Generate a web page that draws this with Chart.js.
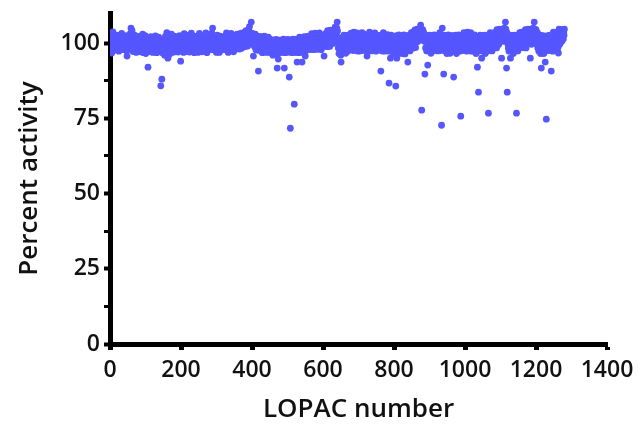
<!DOCTYPE html>
<html>
<head>
<meta charset="utf-8">
<script src="https://cdn.jsdelivr.net/npm/chart.js"></script>
<style>
  html, body { margin: 0; padding: 0; background: #fff; }
  canvas { display: block; }
</style>
</head>
<body>
<canvas id="chart" width="638" height="424"></canvas>
<script>
const xTicks = [0, 200, 400, 600, 800, 1000, 1200, 1400];
const yTicks = [0, 12.5, 25, 37.5, 50, 62.5, 75, 87.5, 100];
const yLabels = [0, 25, 50, 75, 100];

// percent activity for LOPAC compounds 1..1280, 40 per line
const activity = [
  101.2, 99.4, 100.6, 102.3, 96.7, 100.1, 98.3, 103.7, 101.5, 99.8, 100.4, 97.6, 102.1, 100.9, 98.8, 101.3, 97.9, 100.2, 102.6, 99.1, 100.7, 98.4, 101.9, 99.6, 97.3, 99.9, 102.4, 100.3, 101.1, 98.2, 100.8, 99.3, 103.2, 100.5, 97.8, 101.6, 99.2, 100.0, 102.2, 98.6,
  100.4, 99.0, 101.7, 98.1, 102.5, 100.2, 97.4, 95.7, 101.3, 99.5, 100.9, 102.0, 98.5, 100.6, 99.3, 101.4, 103.1, 100.1, 105.0, 99.7, 98.2, 104.2, 100.5, 101.8, 97.2, 100.3, 99.1, 102.7, 100.0, 98.7, 101.2, 100.8, 99.4, 96.9, 102.3, 100.4, 101.6, 97.9, 99.2, 100.7,
  101.1, 99.3, 100.5, 98.0, 102.2, 97.1, 100.9, 99.6, 101.4, 98.4, 100.2, 103.0, 99.0, 96.8, 100.7, 101.2, 98.3, 99.5, 102.5, 100.1, 96.5, 99.8, 101.7, 100.3, 98.6, 97.5, 92.0, 100.4, 99.1, 101.5, 97.7, 100.6, 97.2, 99.4, 102.1, 100.0, 98.1, 99.7, 101.3, 96.9,
  99.2, 100.8, 97.9, 101.6, 97.0, 99.5, 100.3, 102.4, 98.2, 99.9, 100.6, 96.8, 101.1, 99.3, 97.6, 100.2, 102.0, 99.0, 97.3, 100.5, 98.0, 99.6, 85.8, 100.4, 101.3, 88.0, 98.5, 96.7, 100.1, 99.2, 101.0, 97.8, 100.7, 96.0, 99.4, 102.2, 100.0, 98.3, 101.4, 103.5,
  100.3, 98.1, 95.0, 101.2, 99.5, 100.6, 96.2, 102.1, 98.8, 100.0, 97.7, 101.5, 103.0, 99.3, 100.4, 96.9, 101.1, 99.8, 97.5, 99.0, 102.3, 100.2, 97.1, 98.9, 101.6, 100.5, 98.0, 102.0, 99.4, 100.8, 101.3, 97.0, 99.1, 100.3, 97.8, 102.5, 100.1, 99.6, 94.0, 101.0,
  99.1, 100.4, 102.2, 97.9, 101.5, 100.0, 96.9, 99.3, 103.1, 100.6, 98.2, 101.2, 99.7, 100.2, 102.6, 97.2, 100.9, 98.8, 101.4, 98.0, 100.3, 102.1, 99.2, 97.0, 100.7, 101.1, 97.6, 99.9, 103.3, 99.0, 101.3, 100.5, 97.8, 99.4, 102.4, 100.1, 96.8, 101.0, 98.9, 100.6,
  98.0, 101.4, 100.2, 98.7, 102.3, 100.8, 97.7, 96.9, 101.0, 99.6, 98.9, 103.2, 100.4, 97.5, 101.2, 99.0, 100.6, 102.1, 97.1, 100.0, 98.6, 101.5, 97.9, 100.3, 102.5, 99.2, 100.9, 97.6, 101.1, 103.4, 100.2, 98.8, 96.8, 101.3, 99.7, 102.0, 99.1, 97.8, 100.5, 101.6,
  100.1, 102.2, 99.4, 101.0, 97.8, 100.6, 103.3, 101.2, 105.0, 100.3, 102.4, 98.7, 101.5, 100.0, 97.6, 102.1, 99.8, 98.9, 101.3, 96.9, 100.4, 102.6, 98.1, 99.6, 98.8, 101.1, 100.2, 96.9, 99.3, 102.3, 100.7, 97.7, 101.4, 99.0, 100.5, 102.0, 97.9, 100.9, 98.6, 101.2,
  99.2, 100.5, 102.1, 97.8, 100.2, 101.3, 98.9, 103.4, 100.0, 97.7, 101.6, 100.4, 96.9, 99.1, 102.3, 100.7, 101.0, 98.2, 100.1, 98.8, 103.2, 101.4, 100.3, 97.6, 99.3, 102.5, 100.0, 97.1, 101.2, 100.6, 98.7, 102.2, 97.9, 100.4, 101.5, 99.0, 100.2, 103.0, 98.9, 100.8,
  101.3, 99.1, 100.5, 102.4, 98.0, 100.8, 101.2, 99.4, 103.3, 100.1, 98.3, 101.6, 102.2, 100.3, 99.2, 101.0, 103.5, 100.6, 102.1, 98.8, 101.4, 100.0, 104.1, 102.5, 99.9, 101.3, 103.6, 99.0, 102.2, 100.4, 104.3, 101.1, 105.5, 102.6, 100.2, 103.4, 101.0, 107.0, 102.3, 99.8,
  103.2, 101.4, 99.7, 95.7, 102.0, 100.3, 98.9, 101.6, 103.0, 100.2, 97.8, 101.1, 102.4, 98.7, 100.5, 101.3, 97.6, 90.7, 100.1, 102.2, 98.9, 101.5, 99.6, 97.9, 99.2, 101.2, 100.4, 102.1, 96.8, 100.0, 98.6, 101.4, 99.8, 97.5, 102.3, 100.6, 98.8, 101.0, 96.9, 100.3,
  99.0, 101.2, 100.2, 97.7, 99.8, 102.0, 98.6, 96.9, 100.4, 101.3, 97.6, 99.1, 100.0, 96.8, 101.1, 98.8, 97.4, 99.9, 96.0, 98.7, 101.0, 97.5, 100.3, 96.9, 99.2, 100.1, 97.9, 101.2, 96.5, 98.9, 91.7, 100.2, 97.8, 94.7, 99.4, 101.0, 96.8, 100.0, 98.9, 97.6,
  100.2, 97.8, 99.3, 101.1, 96.9, 100.0, 98.8, 97.5, 101.3, 99.6, 91.7, 98.9, 96.8, 100.4, 97.9, 101.0, 98.7, 100.1, 96.9, 99.2, 101.2, 97.7, 100.3, 98.9, 88.7, 100.0, 97.6, 71.7, 99.4, 101.1, 100.2, 96.8, 99.0, 97.9, 100.5, 101.3, 98.8, 96.9, 79.7, 100.1,
  98.9, 100.3, 97.8, 101.2, 96.9, 100.1, 93.7, 99.2, 101.0, 97.6, 100.4, 96.8, 99.0, 102.0, 100.2, 97.7, 101.3, 98.8, 96.9, 100.0, 93.7, 99.4, 101.1, 100.3, 97.9, 98.9, 102.1, 100.0, 96.8, 95.7, 100.2, 98.7, 101.4, 97.8, 100.1, 102.2, 99.0, 101.2, 100.4, 97.9,
  100.1, 101.3, 98.8, 102.4, 100.2, 97.9, 101.1, 103.1, 100.4, 99.0, 101.6, 100.0, 97.8, 102.2, 101.0, 98.9, 100.3, 103.3, 101.2, 98.7, 100.5, 102.3, 97.9, 101.4, 100.1, 98.8, 102.5, 100.2, 101.1, 103.4, 98.9, 100.4, 102.1, 101.3, 97.8, 100.0, 101.2, 98.9, 102.4, 100.6,
  101.0, 98.9, 95.7, 100.3, 102.2, 101.1, 99.0, 103.2, 100.2, 102.4, 101.0, 98.8, 104.1, 100.1, 102.3, 101.2, 103.4, 99.8, 98.9, 102.1, 104.3, 101.0, 100.2, 103.5, 102.0, 100.9, 104.2, 99.9, 102.4, 103.1, 101.1, 104.4, 102.2, 105.3, 103.3, 101.0, 104.5, 102.1, 105.0, 107.0,
  104.0, 101.6, 98.4, 100.7, 96.5, 99.3, 101.8, 97.4, 100.5, 96.0, 93.7, 98.6, 97.2, 100.9, 97.5, 101.4, 99.2, 100.3, 102.6, 97.7, 100.8, 99.5, 101.7, 96.6, 99.7, 102.5, 98.3, 100.6, 101.9, 97.3, 100.4, 99.6, 102.7, 100.9, 98.2, 101.5, 99.8, 98.5, 103.3, 100.6,
  99.4, 101.7, 100.5, 102.6, 97.5, 100.8, 103.6, 101.4, 98.3, 100.7, 102.5, 97.6, 101.8, 99.7, 98.5, 103.4, 100.6, 101.5, 97.3, 100.4, 102.8, 98.6, 101.7, 100.5, 97.4, 102.7, 99.6, 98.4, 101.5, 103.5, 100.7, 97.6, 101.6, 100.4, 103.0, 98.5, 101.7, 100.6, 97.5, 102.6,
  100.6, 98.5, 101.6, 95.7, 100.7, 102.5, 98.3, 101.4, 97.6, 100.5, 103.6, 101.7, 98.6, 99.7, 102.4, 97.4, 101.6, 100.7, 98.4, 102.7, 99.6, 97.5, 101.5, 98.7, 100.6, 103.4, 101.4, 100.6, 97.3, 102.6, 98.5, 100.4, 101.7, 97.6, 99.5, 102.5, 98.4, 101.6, 100.5, 98.3,
  101.5, 98.6, 90.7, 100.6, 102.7, 97.4, 99.6, 101.7, 98.3, 103.5, 100.4, 97.3, 101.6, 100.7, 102.5, 98.4, 99.5, 97.6, 101.4, 100.6, 98.5, 102.8, 100.4, 97.3, 101.5, 86.7, 100.6, 98.4, 101.7, 95.0, 99.6, 102.6, 97.4, 100.5, 101.6, 98.3, 100.7, 96.5, 101.4, 99.6,
  98.5, 101.6, 100.4, 97.3, 85.7, 100.6, 102.5, 95.0, 99.6, 98.4, 101.7, 96.6, 100.5, 102.7, 98.4, 100.6, 97.4, 101.5, 100.7, 98.6, 102.4, 96.5, 99.7, 101.6, 98.3, 97.5, 100.6, 102.7, 98.4, 101.5, 96.4, 100.7, 98.3, 101.6, 97.5, 99.6, 102.5, 98.6, 93.7, 100.4,
  101.5, 98.4, 100.6, 102.6, 97.4, 100.7, 101.6, 98.6, 103.5, 100.4, 102.7, 101.5, 98.3, 100.6, 103.7, 101.4, 102.5, 100.7, 104.4, 101.6, 98.5, 102.6, 103.6, 100.4, 101.7, 104.6, 102.5, 100.6, 103.7, 101.4, 104.7, 102.6, 103.5, 101.5, 106.0, 104.6, 102.4, 77.7, 103.6, 101.5,
  104.5, 102.6, 101.4, 103.5, 100.6, 102.4, 89.7, 101.5, 98.4, 100.6, 102.5, 97.4, 101.6, 100.4, 92.7, 98.5, 101.4, 100.6, 97.5, 102.6, 100.5, 98.4, 101.7, 96.6, 99.6, 102.5, 98.5, 100.7, 97.4, 101.5, 100.4, 98.6, 102.7, 100.5, 97.5, 101.6, 98.4, 100.7, 102.5, 99.6,
  98.5, 101.5, 100.6, 97.4, 102.6, 99.6, 98.4, 101.6, 103.5, 100.5, 97.5, 101.4, 100.7, 72.7, 102.5, 105.0, 99.6, 101.7, 98.3, 89.7, 100.5, 102.6, 97.4, 101.5, 100.7, 98.5, 102.5, 99.6, 96.5, 101.6, 98.4, 100.5, 102.7, 97.3, 100.6, 101.5, 98.4, 96.6, 99.7, 102.5,
  100.5, 98.4, 101.6, 97.3, 100.6, 102.5, 98.4, 88.7, 99.6, 101.5, 97.4, 100.7, 98.5, 102.6, 100.4, 96.5, 101.4, 98.3, 100.6, 97.5, 101.5, 102.7, 98.5, 99.6, 97.3, 101.6, 100.5, 75.7, 98.4, 102.5, 100.7, 101.4, 97.5, 100.5, 98.3, 101.6, 103.5, 99.6, 98.5, 101.5,
  100.6, 102.5, 98.5, 101.4, 97.3, 100.5, 103.6, 101.5, 98.4, 100.6, 102.6, 97.5, 99.6, 101.7, 98.5, 103.5, 100.4, 97.3, 101.4, 100.6, 102.5, 98.4, 99.6, 101.6, 97.4, 100.5, 102.7, 98.3, 101.5, 99.6, 96.5, 100.7, 98.4, 101.5, 92.0, 99.6, 97.4, 83.7, 100.5, 101.6,
  98.4, 100.5, 102.6, 97.4, 99.6, 101.5, 95.0, 100.6, 98.5, 102.5, 99.6, 97.5, 101.6, 98.3, 100.5, 102.6, 96.5, 99.6, 101.5, 98.4, 97.3, 100.6, 102.5, 98.3, 101.4, 76.7, 100.5, 97.5, 101.6, 99.6, 103.5, 98.4, 101.5, 100.6, 102.6, 97.4, 99.6, 101.7, 98.5, 103.4,
  100.5, 102.6, 101.4, 98.5, 103.5, 100.6, 101.5, 102.4, 98.4, 104.5, 101.6, 100.4, 102.6, 103.5, 99.5, 101.4, 104.6, 102.5, 100.5, 103.6, 101.4, 102.6, 95.0, 104.5, 101.5, 103.7, 102.4, 100.6, 104.7, 102.5, 105.0, 103.6, 101.5, 107.0, 104.6, 102.4, 91.7, 103.5, 83.7, 101.6,
  99.6, 98.4, 101.6, 97.3, 100.5, 102.6, 98.4, 95.0, 101.5, 100.6, 97.5, 102.5, 99.6, 98.5, 101.6, 96.5, 100.5, 102.6, 98.4, 99.6, 101.5, 97.4, 100.6, 102.5, 76.7, 98.5, 101.4, 100.6, 97.4, 102.6, 100.5, 101.5, 98.4, 103.5, 99.6, 102.6, 101.4, 98.5, 103.6, 101.5,
  100.6, 102.5, 101.4, 98.5, 103.6, 100.5, 101.6, 102.4, 99.6, 104.5, 101.5, 98.4, 102.6, 101.4, 103.5, 100.6, 102.5, 104.6, 101.4, 100.5, 103.7, 102.4, 101.6, 95.0, 104.5, 102.6, 99.6, 103.5, 101.5, 104.7, 102.4, 105.0, 103.6, 101.5, 107.0, 104.6, 102.5, 103.4, 101.6, 104.5,
  102.5, 99.6, 101.6, 103.5, 98.4, 100.6, 102.4, 97.3, 101.5, 100.5, 98.4, 102.6, 96.5, 99.6, 91.7, 101.5, 98.3, 100.6, 97.5, 102.5, 99.6, 96.5, 98.4, 101.6, 97.3, 93.7, 100.5, 98.4, 74.7, 101.4, 97.5, 100.6, 102.5, 98.3, 99.6, 101.6, 97.5, 100.5, 102.6, 98.4,
  100.5, 101.6, 90.7, 98.4, 102.5, 99.6, 97.3, 101.5, 103.6, 100.6, 98.4, 102.4, 101.5, 100.6, 103.5, 98.5, 101.4, 102.6, 100.5, 103.6, 101.4, 98.5, 96.7, 102.5, 104.6, 101.5, 99.6, 103.5, 102.6, 104.5, 101.4, 102.5, 100.6, 103.6, 104.4, 102.5, 101.4, 103.5, 102.6, 104.6
];

const points = activity.map((v, i) => ({ x: i + 1, y: v }));

const tickFont = { family: "'Open Sans', sans-serif", size: 23, weight: '600' };
const titleFont = { family: "'Open Sans', sans-serif", size: 26, weight: '600', lineHeight: 1 };

const ctx = document.getElementById('chart').getContext('2d');
new Chart(ctx, {
  type: 'scatter',
  data: {
    datasets: [{
      data: points,
      backgroundColor: '#5656ff',
      borderWidth: 0,
      pointRadius: 3.4,
      pointHoverRadius: 3.4
    }]
  },
  options: {
    responsive: false,
    animation: false,
    devicePixelRatio: 1,
    layout: { padding: { top: 13, right: 31, left: 0, bottom: 0 } },
    plugins: {
      legend: { display: false },
      tooltip: { enabled: false }
    },
    scales: {
      x: {
        type: 'linear',
        min: 0,
        max: 1400,
        afterBuildTicks: (s) => { s.ticks = xTicks.map(v => ({ value: v })); },
        afterFit: (s) => { s.height = 80; s.paddingLeft = 0; s.paddingRight = 0; },
        border: { display: true, color: '#000', width: 5 },
        grid: { display: true, drawOnChartArea: false, drawTicks: true, tickLength: 6, tickWidth: 5, tickColor: '#000' },
        ticks: { color: '#111', font: tickFont, padding: 7, maxRotation: 0, autoSkip: false, callback: (v) => String(v) },
        title: { display: true, text: 'LOPAC number', color: '#111', font: titleFont, padding: { top: 0, bottom: 1 } }
      },
      y: {
        min: 0,
        max: 110,
        afterBuildTicks: (s) => { s.ticks = yTicks.map(v => ({ value: v })); },
        afterFit: (s) => { s.width = 110; s.paddingTop = 0; s.paddingBottom = 0; },
        border: { display: true, color: '#000', width: 5 },
        grid: {
          display: true,
          drawOnChartArea: false,
          drawTicks: true,
          tickLength: 6,
          tickWidth: (c) => (yLabels.includes(c.tick.value) ? 4 : 3),
          tickColor: '#000'
        },
        ticks: {
          color: '#111',
          font: tickFont,
          padding: 4,
          autoSkip: false,
          callback: (v) => (yLabels.includes(v) ? String(v) : '')
        },
        title: { display: true, text: 'Percent activity', color: '#111', font: titleFont, padding: { top: 17, bottom: 0 } }
      }
    }
  }
});
</script>
</body>
</html>
